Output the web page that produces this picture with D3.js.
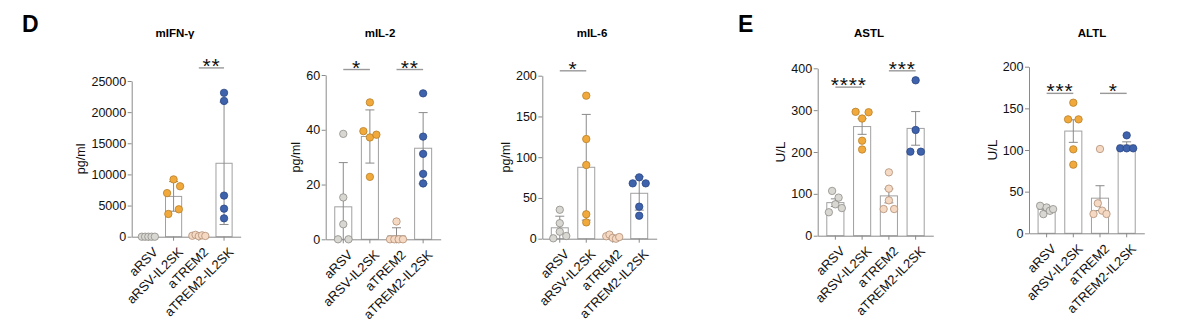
<!DOCTYPE html>
<html>
<head>
<meta charset="utf-8">
<script src="https://cdn.jsdelivr.net/npm/d3@7"></script>
<style>
  html, body { margin: 0; padding: 0; background: #fff; }
  svg { display: block; font-family: Arial, "Liberation Sans", Helvetica, sans-serif; }
</style>
</head>
<body>
<script>
// Treatment groups shared by all five panels
const groups = ["aRSV", "aRSV-IL2SK", "aTREM2", "aTREM2-IL2SK"];

// Per-animal values, one inner array per group (order within a group sets side-by-side placement)
const ifngValues = [
  [0, 0, 0, 0, 0],
  [7000, 9200, 8100, 3650, 4400],
  [150, 300, 80, 220, 120],
  [23100, 21800, 6600, 4500, 2950]
];
const il2Values = [
  [38.5, 15.3, 0, 5.5, 0],
  [50, 39.5, 37.2, 38.2, 22.8],
  [6.5, 0, 0, 0, 0],
  [53.3, 37.5, 31.2, 23.9, 20.4]
];
const il6Values = [
  [35.5, 19, 0.5, 8.6, 3.3],
  [175.5, 122.3, 90.4, 30, 20],
  [3, 5, 1, 0, 2],
  [67.9, 75.3, 67.9, 39.3, 28.2]
];
const astlValues = [
  [56, 107, 75, 91, 66],
  [296, 280, 295, 227, 206],
  [151.4, 112.4, 84.5, 63.7, 63.7],
  [371.3, 252.6, 200.8, 200.8]
];
const altlValues = [
  [33, 23, 31, 27, 29],
  [156.8, 136.8, 136.8, 100.8, 82.4],
  [101.2, 23.2, 36, 27.2, 23.2],
  [117.6, 102, 102, 102]
];

// Y-axis tick labels
const ifngTicks = [0, 5000, 10000, 15000, 20000, 25000];
const il2Ticks = [0, 20, 40, 60];
const il6Ticks = [0, 50, 100, 150, 200];
const astlTicks = [0, 100, 200, 300, 400];
const altlTicks = [0, 50, 100, 150, 200];

// Significance brackets: [group A, group B, label, bracket height in data units]
const ifngSig = [["aTREM2", "aTREM2-IL2SK", "**", 27100]];
const il2Sig = [["aRSV", "aRSV-IL2SK", "*", 62], ["aTREM2", "aTREM2-IL2SK", "**", 62]];
const il6Sig = [["aRSV", "aRSV-IL2SK", "*", 206]];
const astlSig = [["aRSV", "aRSV-IL2SK", "****", 355], ["aTREM2", "aTREM2-IL2SK", "***", 394]];
const altlSig = [["aRSV", "aRSV-IL2SK", "***", 168], ["aTREM2", "aTREM2-IL2SK", "*", 168]];

// Point colours per group
const dotFill = ["#d9d7d2", "#f2a93b", "#f6d9c2", "#3e62ab"];
const dotStroke = ["#8f8d88", "#b7802a", "#b08f78", "#2b4685"];

// Panel layout
const panels = [
  { title: "mIFN-γ", unit: "pg/ml", values: ifngValues, ticks: ifngTicks, sig: ifngSig, err: "sd",
    x0: 131.7, x1: 240.7, yBase: 236.7, yTop: 81, titleX: 175 },
  { title: "mIL-2", unit: "pg/ml", values: il2Values, ticks: il2Ticks, sig: il2Sig, err: "sd",
    x0: 325.7, x1: 440.7, yBase: 239.3, yTop: 75, titleX: 380 },
  { title: "mIL-6", unit: "pg/ml", values: il6Values, ticks: il6Ticks, sig: il6Sig, err: "sd",
    x0: 542.3, x1: 656.7, yBase: 238.7, yTop: 75.7, titleX: 592 },
  { title: "ASTL", unit: "U/L", values: astlValues, ticks: astlTicks, sig: astlSig, err: "sem",
    x0: 817.7, x1: 933.3, yBase: 235.7, yTop: 68.3, titleX: 869 },
  { title: "ALTL", unit: "U/L", values: altlValues, ticks: altlTicks, sig: altlSig, err: "sem",
    x0: 1029, x1: 1144.3, yBase: 233.3, yTop: 66.7, titleX: 1092 }
];

const W = 1198, H = 331;
const R = 3.7;            // dot radius
const AXIS = "#8a8a8a";
const FONT = 'Arial, "Liberation Sans", Helvetica, sans-serif';

const svg = d3.select("body").append("svg").attr("width", W).attr("height", H);

// Panel letters
svg.append("text").attr("x", 22).attr("y", 32).text("D")
  .attr("font-size", 23).attr("font-weight", "bold");
svg.append("text").attr("x", 738).attr("y", 32).text("E")
  .attr("font-size", 23).attr("font-weight", "bold");

// Spread overlapping dots horizontally: chain dots whose vertical gap is below a diameter,
// then lay each chain out evenly across a limited width, in the order given.
function spread(vals, y) {
  const idx = vals.map((v, i) => i).sort((a, b) => vals[b] - vals[a]);
  const clusters = [];
  let cur = [];
  idx.forEach(i => {
    if (cur.length && Math.abs(y(vals[cur[cur.length - 1]]) - y(vals[i])) >= 2 * R) {
      clusters.push(cur); cur = [];
    }
    cur.push(i);
  });
  if (cur.length) clusters.push(cur);
  const off = new Array(vals.length).fill(0);
  clusters.forEach(c => {
    const k = c.length;
    if (k < 2) return;
    const step = Math.min(10.5, 13 / (k - 1));
    const members = c.slice().sort((a, b) => a - b);
    members.forEach((i, j) => { off[i] = (j - (k - 1) / 2) * step; });
  });
  return off;
}

panels.forEach(p => {
  const g = svg.append("g");
  const yMax = p.ticks[p.ticks.length - 1];
  const y = d3.scaleLinear().domain([0, yMax]).range([p.yBase, p.yTop]);
  const x = d3.scaleBand().domain(groups).range([p.x0, p.x1])
    .paddingInner(0.36).paddingOuter(0.34);
  const bw = x.bandwidth();

  const stats = p.values.map((vals, gi) => {
    const m = d3.mean(vals);
    const sd = d3.deviation(vals) || 0;
    const e = p.err === "sem" ? sd / Math.sqrt(vals.length) : sd;
    return { group: groups[gi], gi, vals, mean: m, err: e };
  });

  // Title
  g.append("text").attr("x", p.titleX).attr("y", 37).attr("text-anchor", "middle")
    .attr("font-size", 11.5).attr("font-weight", "bold").text(p.title);

  // Bars
  g.selectAll("rect.bar").data(stats).join("rect").attr("class", "bar")
    .attr("x", d => x(d.group)).attr("width", bw)
    .attr("y", d => y(d.mean)).attr("height", d => y(0) - y(d.mean))
    .attr("fill", "#fff").attr("stroke", "#a0a0a0").attr("stroke-width", 1);

  // Error bars
  const cap = 4.5;
  stats.forEach(d => {
    if (d.err <= 0) return;
    const cx = x(d.group) + bw / 2;
    const hi = d.mean + d.err;
    const lo = Math.max(0, d.mean - d.err);
    g.append("line").attr("x1", cx).attr("x2", cx).attr("y1", y(lo)).attr("y2", y(hi))
      .attr("stroke", AXIS).attr("stroke-width", 1);
    g.append("line").attr("x1", cx - cap).attr("x2", cx + cap).attr("y1", y(hi)).attr("y2", y(hi))
      .attr("stroke", AXIS).attr("stroke-width", 1);
    if (d.mean - d.err > 0) {
      g.append("line").attr("x1", cx - cap).attr("x2", cx + cap).attr("y1", y(lo)).attr("y2", y(lo))
        .attr("stroke", AXIS).attr("stroke-width", 1);
    }
  });

  // Axes
  const yAxis = g.append("g").attr("transform", `translate(${p.x0},0)`)
    .call(d3.axisLeft(y).tickValues(p.ticks).tickSize(4).tickSizeOuter(0).tickPadding(1.5)
      .tickFormat(d3.format("d")));
  const xAxis = g.append("g").attr("transform", `translate(0,${p.yBase})`)
    .call(d3.axisBottom(x).tickSize(4).tickSizeOuter(0));
  [yAxis, xAxis].forEach(a => {
    a.select(".domain").attr("stroke", AXIS).attr("stroke-width", 1);
    a.selectAll(".tick line").attr("stroke", AXIS).attr("stroke-width", 1);
    a.selectAll("text").attr("fill", "#111").attr("font-size", 12.5).attr("font-family", FONT);
  });
  xAxis.selectAll(".tick text")
    .attr("font-size", 13)
    .attr("text-anchor", "end").attr("x", 0).attr("y", 0).attr("dy", "0.35em")
    .attr("transform", "translate(7,13) rotate(-45)");

  // Y-axis unit label, placed left of the tick labels
  const bb = yAxis.node().getBBox();
  g.append("text")
    .attr("transform", `translate(${p.x0 + bb.x - 6},${(p.yBase + p.yTop) / 2}) rotate(-90)`)
    .attr("text-anchor", "middle").attr("font-size", p.unit === "U/L" ? 13.5 : 12.5)
    .attr("fill", "#111").text(p.unit);

  // Dots
  stats.forEach(d => {
    const off = spread(d.vals, y);
    const cx = x(d.group) + bw / 2;
    g.selectAll(null).data(d.vals).join("circle")
      .attr("cx", (v, i) => cx + off[i]).attr("cy", v => y(v)).attr("r", R)
      .attr("fill", dotFill[d.gi]).attr("stroke", dotStroke[d.gi]).attr("stroke-width", 0.8);
  });

  // Significance brackets
  p.sig.forEach(([a, b, label, level]) => {
    const xa = x(a) + bw / 2, xb = x(b) + bw / 2;
    const ly = y(level);
    g.append("line").attr("x1", xa).attr("x2", xb).attr("y1", ly).attr("y2", ly)
      .attr("stroke", "#999").attr("stroke-width", 1.4);
    g.append("text").attr("x", (xa + xb) / 2).attr("y", ly + 5).attr("text-anchor", "middle")
      .attr("font-size", 21).attr("letter-spacing", 0.8).attr("fill", "#111").text(label);
  });
});
</script>
</body>
</html>
